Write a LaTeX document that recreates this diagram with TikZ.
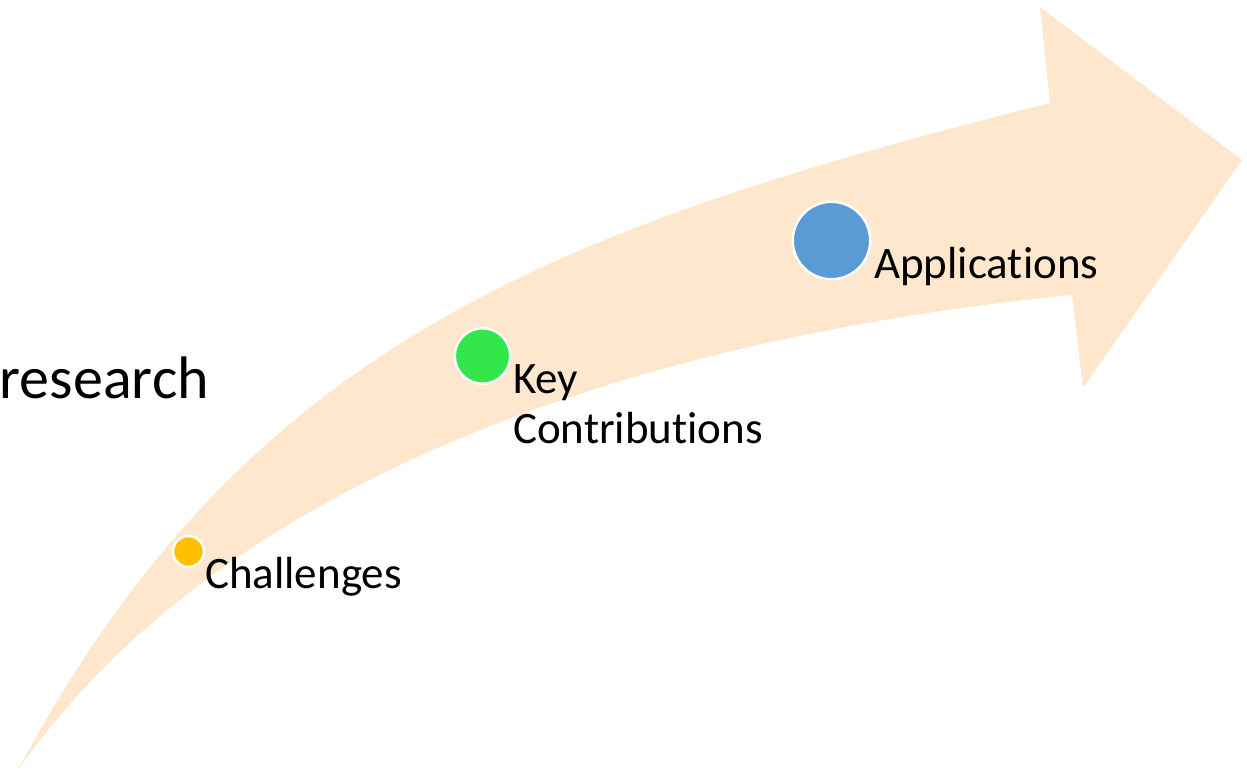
\documentclass[tikz,border=0pt]{standalone}
\usepackage{fontspec}
\setmainfont[Ligatures={NoCommon}]{Carlito}
\definecolor{arrowfill}{RGB}{254,231,205}
\definecolor{dotyellow}{RGB}{255,192,0}
\definecolor{dotgreen}{RGB}{50,230,75}
\definecolor{dotblue}{RGB}{91,155,213}
\begin{document}
\begin{tikzpicture}[x=1pt,y=-1pt,
  dot/.style={circle, draw=white, line width=2.5pt, inner sep=0pt},
  lbl/.style={inner sep=0pt, anchor=base west, font=\fontsize{45}{50}\selectfont},
  bigtext/.style={inner sep=0pt, anchor=base east, font=\fontsize{60}{70}\selectfont}]
\useasboundingbox (0,0) rectangle (1247,773);
% curved arrow
\fill[arrowfill] (18,770)
  .. controls (246,343) and (555,228) .. (1050,103)
  -- (1040,7) -- (1242,160) -- (1083,388) -- (1072,295)
  .. controls (624.3,339.1) and (218.6,483.4) .. (18,770)
  -- cycle;
% text on the left
\node[bigtext] (research) at (209,398) {research};
% milestones
\node[dot, fill=dotyellow, minimum size=31pt] (challengesdot) at (188.5,551.5) {};
\node[dot, fill=dotgreen, minimum size=55.5pt] (keydot) at (482.5,356) {};
\node[dot, fill=dotblue, minimum size=77.5pt] (appdot) at (831.5,240.5) {};
\node[lbl] (challenges) at (205,588) {Challenges};
\node[lbl] (key) at (513,393) {Key};
\node[lbl] (contrib) at (513,443) {Contributions};
\node[lbl] (applications) at (874,278) {Applications};
\end{tikzpicture}
\end{document}
